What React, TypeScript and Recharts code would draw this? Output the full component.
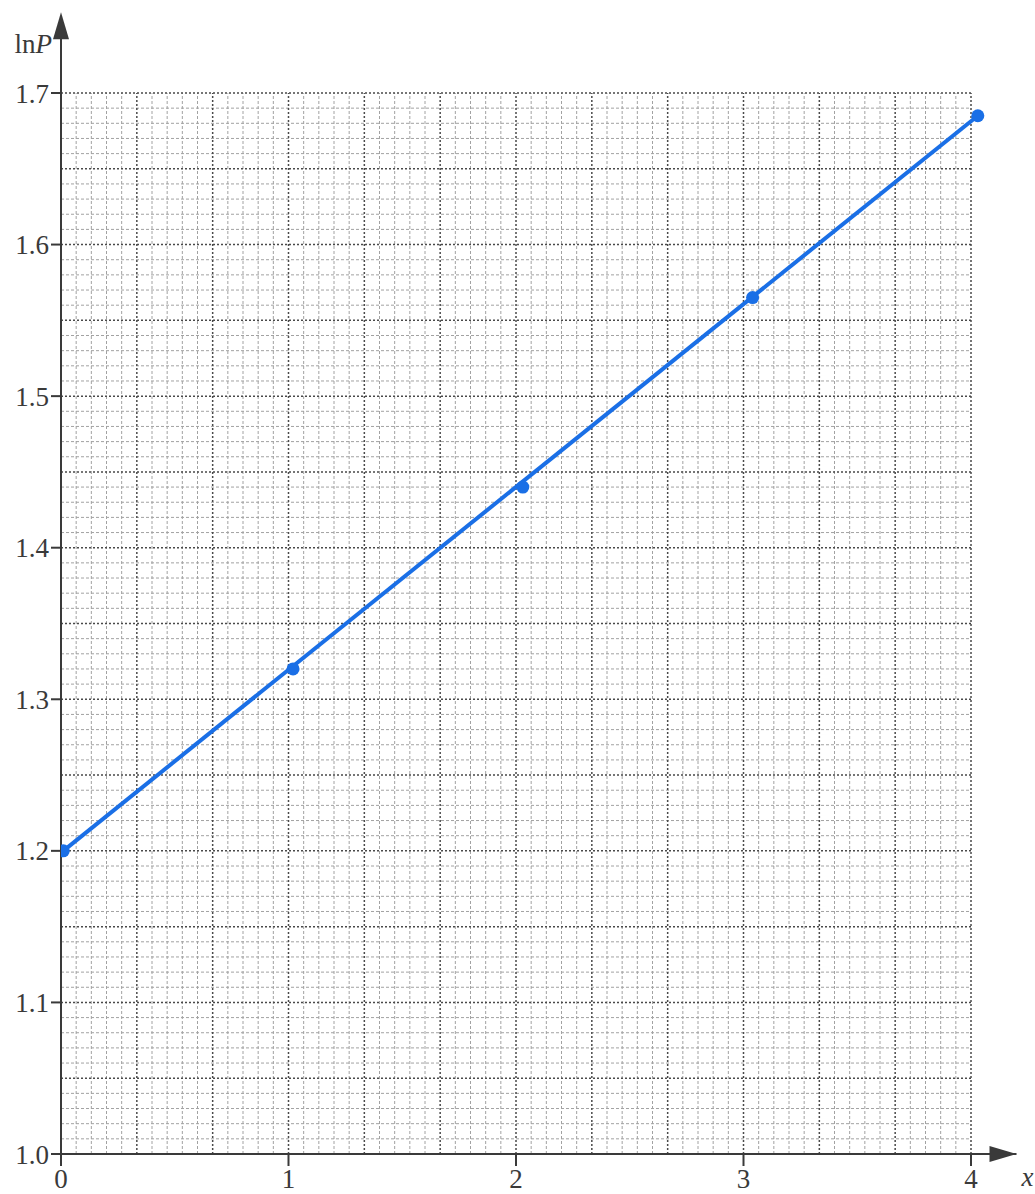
import React from 'react';
import { ComposedChart, XAxis, YAxis, Line, Scatter, ReferenceLine, ReferenceDot } from 'recharts';

// Data
const xTicks = [0, 1, 2, 3, 4];
const yTicks = [1.0, 1.1, 1.2, 1.3, 1.4, 1.5, 1.6, 1.7];
const pointX = [0.01, 1.02, 2.03, 3.04, 4.03];
const pointY = [1.2, 1.32, 1.44, 1.565, 1.685];
const fitX = [0.01, 4.03];
const fitY = [1.2, 1.685];

const points = pointX.map((x, i) => ({ x, y: pointY[i] }));
const fitLine = fitX.map((x, i) => ({ x, y: fitY[i] }));

// Graph-paper grid (fine every 0.01 / 1/15, bold every 0.05 / 1/3)
const fineY: number[] = [];
const boldY: number[] = [];
for (let i = 1; i <= 70; i++) {
  const v = Number((1 + i / 100).toFixed(4));
  if (i % 5 === 0) boldY.push(v);
  else fineY.push(v);
}
const fineX: number[] = [];
const boldX: number[] = [];
for (let i = 1; i <= 60; i++) {
  const v = i / 15;
  if (i % 5 === 0) boldX.push(v);
  else fineX.push(v);
}

const BLUE = '#1a6fe6';
const INK = '#3a3a3a';
const FONT = '"Liberation Serif", "DejaVu Serif", serif';

const fineStyle = { stroke: '#a2a2a2', strokeWidth: 1, strokeDasharray: '3 2' };
const boldStyle = { stroke: '#4a4a4a', strokeWidth: 1.5, strokeDasharray: '2 2' };

export default function App() {
  return (
    <div style={{ position: 'absolute', left: 0, top: 0, background: '#fff' }}>
      <ComposedChart
        width={1035}
        height={1194}
        margin={{ top: 17.2, right: 18.5, bottom: 10, left: 1 }}
      >
        <XAxis
          type="number"
          dataKey="x"
          domain={[0, 4.2]}
          ticks={xTicks}
          allowDataOverflow
          tickSize={12}
          tickMargin={3}
          height={30}
          axisLine={{ stroke: INK, strokeWidth: 2 }}
          tickLine={{ stroke: INK, strokeWidth: 2 }}
          tick={{ fontFamily: FONT, fontSize: 27, fill: INK }}
        />
        <YAxis
          type="number"
          dataKey="y"
          domain={[1.0, 1.75]}
          ticks={yTicks}
          allowDataOverflow
          width={60}
          tickSize={10}
          tickMargin={2}
          tickFormatter={(v: number) => v.toFixed(1)}
          axisLine={{ stroke: INK, strokeWidth: 2 }}
          tickLine={{ stroke: INK, strokeWidth: 2 }}
          tick={{ fontFamily: FONT, fontSize: 27, fill: INK }}
        />
        {fineY.map((v) => (
          <ReferenceLine key={'fy' + v} segment={[{ x: 0, y: v }, { x: 4, y: v }]} {...fineStyle} />
        ))}
        {fineX.map((v) => (
          <ReferenceLine key={'fx' + v} segment={[{ x: v, y: 1 }, { x: v, y: 1.7 }]} {...fineStyle} />
        ))}
        {boldY.map((v) => (
          <ReferenceLine key={'by' + v} segment={[{ x: 0, y: v }, { x: 4, y: v }]} {...boldStyle} />
        ))}
        {boldX.map((v) => (
          <ReferenceLine key={'bx' + v} segment={[{ x: v, y: 1 }, { x: v, y: 1.7 }]} {...boldStyle} />
        ))}
        <ReferenceDot
          x={0}
          y={1.75}
          ifOverflow="visible"
          shape={(p: any) => (
            <g>
              <polygon
                points={`${p.cx},${p.cy - 5} ${p.cx - 8},${p.cy + 22} ${p.cx + 8},${p.cy + 22}`}
                fill={INK}
              />
              <text
                x={p.cx - 9}
                y={p.cy + 36}
                textAnchor="end"
                fontFamily={FONT}
                fontSize={27}
                fill={INK}
              >
                <tspan>ln</tspan>
                <tspan fontStyle="italic">P</tspan>
              </text>
            </g>
          )}
        />
        <ReferenceDot
          x={4.2}
          y={1.0}
          ifOverflow="visible"
          shape={(p: any) => (
            <g>
              <polygon
                points={`${p.cx},${p.cy} ${p.cx - 27},${p.cy - 8} ${p.cx - 27},${p.cy + 8}`}
                fill={INK}
              />
              <text
                x={p.cx + 5}
                y={p.cy + 32}
                textAnchor="start"
                fontFamily={FONT}
                fontSize={27}
                fontStyle="italic"
                fill={INK}
              >
                x
              </text>
            </g>
          )}
        />
        <Line
          data={fitLine}
          dataKey="y"
          type="linear"
          stroke={BLUE}
          strokeWidth={4}
          dot={false}
          activeDot={false}
          isAnimationActive={false}
        />
        <Scatter
          data={points}
          dataKey="y"
          fill={BLUE}
          isAnimationActive={false}
          shape={(p: any) => <circle cx={p.cx} cy={p.cy} r={6.5} fill={BLUE} />}
        />
      </ComposedChart>
    </div>
  );
}
